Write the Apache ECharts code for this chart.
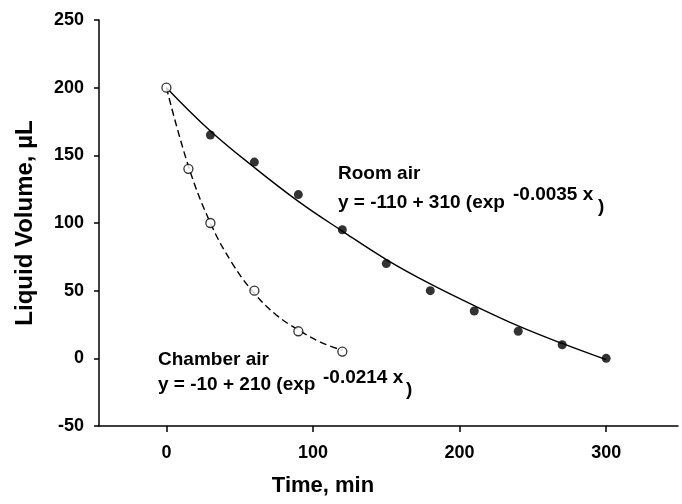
<!DOCTYPE html>
<html>
<head>
<meta charset="utf-8">
<script src="https://cdn.jsdelivr.net/npm/echarts@6/dist/echarts.min.js"></script>
<style>
html,body{margin:0;padding:0;background:#fff;}
#chart{width:682px;height:504px;}
</style>
</head>
<body>
<div id="chart"></div>
<script>
// Data
var chamberTime = [0, 15, 30, 60, 90, 120];
var chamberVolume = [200, 140, 100, 50, 20, 5];
var roomTime = [30, 60, 90, 120, 150, 180, 210, 240, 270, 300];
var roomVolume = [165, 145, 121, 95, 70, 50, 35, 20, 10, 0];
// Fitted curves
var chamberFitTime = [0, 15, 30, 45, 60, 75, 90, 105, 120];
var chamberFitVolume = [200, 142, 100, 70, 48, 32, 21, 12, 6];
var roomFitTime = [0, 30, 60, 90, 120, 150, 180, 210, 240, 270, 300];
var roomFitVolume = [200, 168, 141, 116, 94, 73, 55, 39, 24, 11, -1];
var xTicks = [0, 100, 200, 300];
var yTicks = [-50, 0, 50, 100, 150, 200, 250];
var xTitle = 'Time, min';
var yTitle = 'Liquid Volume, µL';
var roomLabel = 'Room air';
var roomEqMain = 'y = -110 + 310 (exp';
var roomEqSup = '-0.0035 x';
var chamberLabel = 'Chamber air';
var chamberEqMain = 'y = -10 + 210 (exp';
var chamberEqSup = '-0.0214 x';

function pairs(xs, ys) { return xs.map(function (x, i) { return [x, ys[i]]; }); }

var FONT = '"Liberation Sans", Arial, Helvetica, sans-serif';
var chart = echarts.init(document.getElementById('chart'), null, {renderer: 'canvas'});

function txt(x, y, s, size, align) {
  return {
    type: 'text', x: x, y: y, silent: true,
    style: {text: s, fill: '#000', font: 'bold ' + size + 'px ' + FONT,
            textAlign: align || 'left', textVerticalAlign: 'middle'}
  };
}

var option = {
  backgroundColor: '#fff',
  animation: false,
  grid: {left: 99, right: 4, top: 20, bottom: 78, containLabel: false},
  xAxis: {
    type: 'value', min: -46, max: 349,
    splitLine: {show: false},
    axisLine: {show: true, onZero: false, lineStyle: {color: '#000', width: 1.5}},
    axisTick: {show: true, customValues: xTicks, length: 6, lineStyle: {color: '#000', width: 1.5}},
    axisLabel: {customValues: xTicks, margin: 18, color: '#000', fontSize: 18, fontWeight: 'bold', fontFamily: FONT}
  },
  yAxis: {
    type: 'value', min: yTicks[0], max: yTicks[yTicks.length - 1], interval: 50,
    splitLine: {show: false},
    name: yTitle, nameLocation: 'middle', nameGap: 62,
    nameTextStyle: {color: '#000', fontSize: 24, fontWeight: 'bold', fontFamily: FONT},
    axisLine: {show: true, onZero: false, lineStyle: {color: '#000', width: 1.5}},
    axisTick: {show: true, length: 5, lineStyle: {color: '#000', width: 1.5}},
    axisLabel: {margin: 15, color: '#000', fontSize: 18, fontWeight: 'bold', fontFamily: FONT}
  },
  series: [
    {type: 'line', data: pairs(chamberFitTime, chamberFitVolume), smooth: 0.4, symbol: 'none',
     lineStyle: {color: '#000', width: 1.4, type: [7, 4]}, z: 1},
    {type: 'line', data: pairs(roomFitTime, roomFitVolume), smooth: 0.4, symbol: 'none',
     lineStyle: {color: '#000', width: 1.4}, z: 1},
    {type: 'scatter', data: pairs(roomTime, roomVolume), symbol: 'circle', symbolSize: 9,
     itemStyle: {color: '#000'}, z: 3},
    {type: 'scatter', data: pairs(chamberTime, chamberVolume), symbol: 'circle', symbolSize: 9,
     itemStyle: {color: '#fff', borderColor: '#000', borderWidth: 1.3}, z: 3}
  ],
  graphic: [
    txt(323, 486, xTitle, 22, 'center'),
    txt(338, 174, roomLabel, 19),
    txt(338, 203, roomEqMain, 19),
    txt(513, 195, roomEqSup, 19),
    txt(598, 207, ')', 19),
    txt(158, 360, chamberLabel, 19),
    txt(158, 385, chamberEqMain, 19),
    txt(323, 378, chamberEqSup, 19),
    txt(406, 390, ')', 19)
  ]
};
chart.setOption(option);
</script>
</body>
</html>
